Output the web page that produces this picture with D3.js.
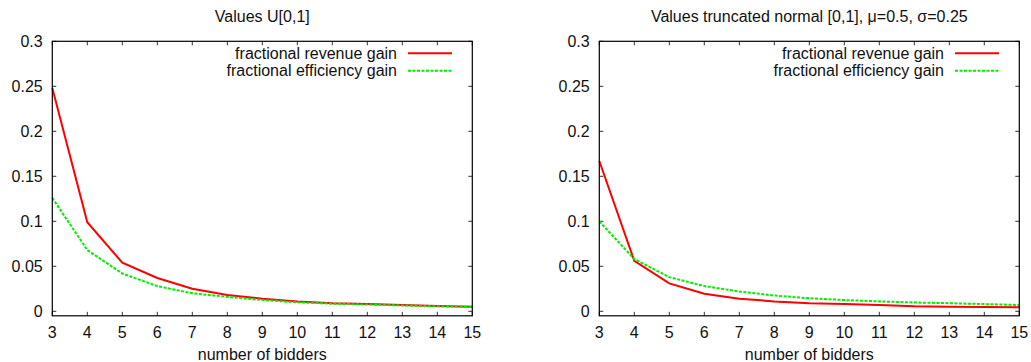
<!DOCTYPE html>
<html><head><meta charset="utf-8">
<script src="https://cdn.jsdelivr.net/npm/d3@7"></script>
<style>body{margin:0;background:#fff;} svg{display:block;} text{font-family:"Liberation Sans",Arial,sans-serif;}</style>
</head><body>
<svg id="c" width="1031" height="362"></svg>
<script>
const bidders = [3,4,5,6,7,8,9,10,11,12,13,14,15];
const xTicks = [3,4,5,6,7,8,9,10,11,12,13,14,15];
const yTicks = [0,0.05,0.1,0.15,0.2,0.25,0.3];
const yTickLabels = ["0","0.05","0.1","0.15","0.2","0.25","0.3"];
const seriesNames = ["fractional revenue gain","fractional efficiency gain"];
const titles = ["Values U[0,1]","Values truncated normal [0,1], \u03bc=0.5, \u03c3=0.25"];
const xLabel = "number of bidders";
const uniformRevenue = [0.248,0.099,0.054,0.037,0.025,0.018,0.014,0.011,0.009,0.008,0.007,0.006,0.005];
const uniformEfficiency = [0.126,0.068,0.042,0.028,0.020,0.016,0.0125,0.010,0.0085,0.0075,0.0065,0.0055,0.005];
const normalRevenue = [0.167,0.056,0.031,0.0195,0.014,0.011,0.009,0.008,0.007,0.0055,0.005,0.0048,0.0045];
const normalEfficiency = [0.100,0.058,0.038,0.028,0.022,0.0175,0.0145,0.0125,0.011,0.0098,0.009,0.008,0.007];

const svg = d3.select("#c");
const panels = [
  {left:52.3, right:472.3, title:titles[0], rev:uniformRevenue, eff:uniformEfficiency},
  {left:599.3, right:1019.3, title:titles[1], rev:normalRevenue, eff:normalEfficiency}
];
const plotTop = 41.3, plotBottom = 315.8;
const colors = ["#ff0000","#00ee00"];
const fs = 16;

panels.forEach(p => {
  const g = svg.append("g");
  const x = d3.scaleLinear().domain([3,15]).range([p.left,p.right]);
  const y = d3.scaleLinear().domain([-0.005,0.3]).range([plotBottom,plotTop]);
  const W = p.right - p.left;

  const tl = 4;
  xTicks.forEach(t => {
    g.append("line").attr("x1",x(t)).attr("x2",x(t)).attr("y1",plotBottom).attr("y2",plotBottom-tl).attr("stroke","#333");
    g.append("line").attr("x1",x(t)).attr("x2",x(t)).attr("y1",plotTop).attr("y2",plotTop+tl).attr("stroke","#333");
    g.append("text").attr("x",x(t)).attr("y",337.5).attr("text-anchor","middle").attr("font-size",fs).attr("fill","#111").text(t);
  });
  yTicks.forEach((t,i) => {
    g.append("line").attr("x1",p.left).attr("x2",p.left+tl).attr("y1",y(t)).attr("y2",y(t)).attr("stroke","#333");
    g.append("line").attr("x1",p.right).attr("x2",p.right-tl).attr("y1",y(t)).attr("y2",y(t)).attr("stroke","#333");
    g.append("text").attr("x",p.left-9.6).attr("y",y(t)+5.8).attr("text-anchor","end").attr("font-size",fs).attr("fill","#111").text(yTickLabels[i]);
  });

  const line = d3.line().x((d,i)=>x(bidders[i])).y(d=>y(d));
  g.append("path").datum(p.rev).attr("d",line).attr("fill","none").attr("stroke",colors[0]).attr("stroke-width",2);
  g.append("path").datum(p.eff).attr("d",line).attr("fill","none").attr("stroke",colors[1]).attr("stroke-width",2).attr("stroke-dasharray","3,1.5");

  g.append("rect").attr("x",p.left).attr("y",plotTop).attr("width",W).attr("height",plotBottom-plotTop).attr("fill","none").attr("stroke","#000").attr("stroke-width",1.2);

  const lx = p.right - 75.3, rows=[53.3,70.7];
  seriesNames.forEach((n,i)=>{
    g.append("text").attr("x",lx).attr("y",rows[i]+5.6).attr("text-anchor","end").attr("font-size",fs).attr("fill","#111").text(n);
    g.append("line").attr("x1",lx+11).attr("x2",lx+55).attr("y1",rows[i]).attr("y2",rows[i]).attr("stroke",colors[i]).attr("stroke-width",2).attr("stroke-dasharray",i?"3,1.5":null);
  });

  g.append("text").attr("x",(p.left+p.right)/2).attr("y",21.5).attr("text-anchor","middle").attr("font-size",fs).attr("fill","#111").text(p.title);
  g.append("text").attr("x",(p.left+p.right)/2).attr("y",359.5).attr("text-anchor","middle").attr("font-size",fs).attr("fill","#111").text(xLabel);
});
</script>
</body></html>
